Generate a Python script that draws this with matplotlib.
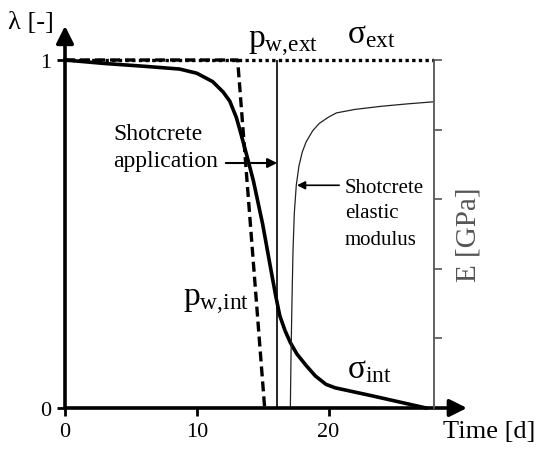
import matplotlib
matplotlib.use("Agg")
import matplotlib.pyplot as plt

plt.rcParams['font.family'] = ['Liberation Serif', 'DejaVu Serif']
plt.rcParams['mathtext.fontset'] = 'custom'
plt.rcParams['mathtext.rm'] = 'Liberation Serif'

# Data (time in days, normalised lambda / E)
sigma_int_t = [0, 3, 6, 8.7, 10, 11.2, 12.0, 12.5, 13.0, 13.3, 13.8, 14.3, 15.0, 15.66,
               16.0, 16.3, 16.7, 17.1, 17.6, 18.3, 19.0, 19.8, 20.5, 23.3, 27.4]
sigma_int_y = [1.0, 0.99, 0.982, 0.974, 0.962, 0.938, 0.908, 0.882, 0.835, 0.795, 0.725, 0.652, 0.528, 0.39,
               0.32, 0.265, 0.222, 0.188, 0.155, 0.122, 0.092, 0.068, 0.058, 0.035, 0.0]

pw_t = [0, 13.1, 15.15]
pw_y = [1.0, 1.0, 0.0]

sigma_ext_t = [0, 28]
sigma_ext_y = [1.0, 1.0]

shotcrete_t = 16.1

E_t = [17.1, 17.15, 17.22, 17.3, 17.4, 17.55, 17.75, 18.0, 18.3, 18.8, 19.3, 20.0, 20.6, 22.0, 24.0, 26.0, 28.0]
E_y = [0.0, 0.15, 0.30, 0.45, 0.56, 0.64, 0.695, 0.735, 0.765, 0.797, 0.818, 0.836, 0.848, 0.858, 0.867, 0.874, 0.88]

x_ticks = [0, 10, 20]
y_ticks = [0, 1]
E_ticks = [0.2, 0.4, 0.6, 0.8, 1.0]

fig = plt.figure(figsize=(5.36, 4.52), dpi=100)
ax = fig.add_axes([65/536, 43/452, 369/536, 348/452])
ax.set_xlim(0, 28)
ax.set_ylim(0, 1)

# right axis for E
ax2 = ax.twinx()
ax2.set_ylim(0, 1)
ax2.set_yticks(E_ticks)
ax2.set_yticklabels([])
ax2.tick_params(axis='y', direction='out', length=6, width=1.2, color='#555555')
for s in ['top', 'left', 'bottom']:
    ax2.spines[s].set_visible(False)
ax2.spines['right'].set_color('#555555')
ax2.spines['right'].set_linewidth(1.3)
ax2.set_ylabel('E [GPa]', fontsize=21, color='#555555', labelpad=6)

for s in ax.spines.values():
    s.set_visible(False)

ax.plot(sigma_ext_t, sigma_ext_y, color='black', lw=2.4, dashes=(1, 1), clip_on=False)
ax.plot(pw_t, pw_y, color='black', lw=2.4, dashes=(3, 1.5), clip_on=False)
ax.plot(sigma_int_t, sigma_int_y, color='black', lw=2.6, clip_on=False)
ax.plot([shotcrete_t, shotcrete_t], [0, 1], color='black', lw=1.2)
ax.plot(E_t, E_y, color='#222222', lw=0.9)

# axis arrows
arrow = dict(arrowstyle='-|>', mutation_scale=26, lw=2.6, color='black', shrinkA=0, shrinkB=0)
ax.annotate('', xy=(30.5, 0), xytext=(0, 0), arrowprops=arrow, annotation_clip=False)
ax.annotate('', xy=(0, 1.098), xytext=(0, 0), arrowprops=arrow, annotation_clip=False)

ax.set_xticks(x_ticks)
ax.set_yticks(y_ticks)
ax.tick_params(axis='both', direction='out', length=6, width=2, labelsize=16, pad=4)

ax.text(-4.35, 1.11, 'λ [-]', fontsize=19, ha='left', va='center')
ax.text(28.7, -0.067, 'Time [d]', fontsize=19, ha='left', va='center')

ax.text(13.9, 1.037, r'$\mathregular{p_{w{,}ext}}$', fontsize=24, ha='left', va='baseline')
ax.text(21.4, 1.052, r'$\mathregular{σ_{ext}}$', fontsize=24, ha='left', va='baseline')
ax.text(8.95, 0.294, r'$\mathregular{p_{w{,}int}}$', fontsize=24, ha='left', va='baseline')
ax.text(21.4, 0.089, r'$\mathregular{σ_{int}}$', fontsize=24, ha='left', va='baseline')

ax.text(3.64, 0.773, 'Shotcrete', fontsize=17, ha='left', va='baseline')
ax.text(3.64, 0.695, 'application', fontsize=17, ha='left', va='baseline')
ax.annotate('', xy=(shotcrete_t, 0.704), xytext=(12.2, 0.704),
            arrowprops=dict(arrowstyle='-|>', mutation_scale=14, lw=1.5, color='black',
                            shrinkA=0, shrinkB=0))

ax.text(21.25, 0.62, 'Shotcrete', fontsize=15, ha='left', va='baseline')
ax.text(21.25, 0.55, 'elastic', fontsize=15, ha='left', va='baseline')
ax.text(21.25, 0.472, 'modulus', fontsize=15, ha='left', va='baseline')
ax.annotate('', xy=(17.6, 0.64), xytext=(20.8, 0.64),
            arrowprops=dict(arrowstyle='-|>', mutation_scale=12, lw=1.2, color='black',
                            shrinkA=0, shrinkB=0))

fig.savefig('out.png', dpi=100)
